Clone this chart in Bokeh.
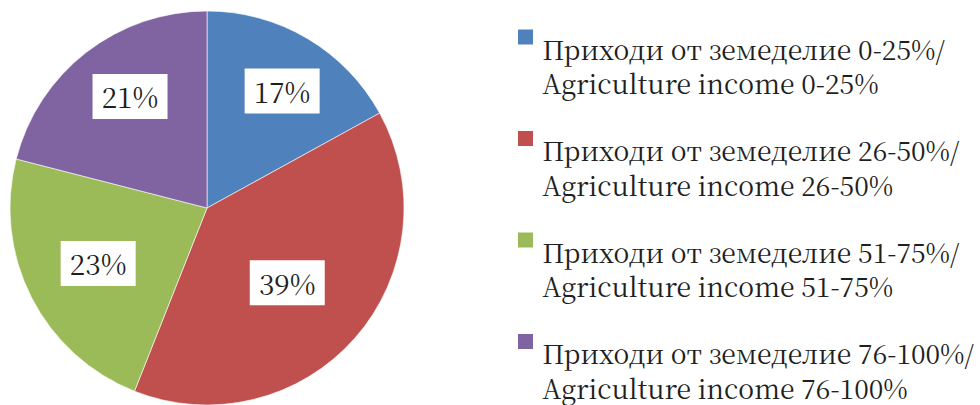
import math
from bokeh.plotting import figure
from bokeh.models import Range1d, ColumnDataSource
from bokeh.core.properties import value
from bokeh.embed import file_html
from bokeh.resources import INLINE

# ---- data ----
categories_bg = ["Приходи от земеделие 0-25%/", "Приходи от земеделие 26-50%/",
                 "Приходи от земеделие 51-75%/", "Приходи от земеделие 76-100%/"]
categories_en = ["Agriculture income 0-25%", "Agriculture income 26-50%",
                 "Agriculture income 51-75%", "Agriculture income 76-100%"]
shares = [17, 39, 23, 21]
colors = ["#4F81BD", "#C0504D", "#9BBB59", "#8064A2"]

# ---- layout (picture coordinates, y measured downward) ----
W, H = 980, 405
FONT = "Noto Serif CJK SC"
TXT = "#1f1f1f"
cx, cy, R = 206.5, 207.5, 197
label_frac = [0.706, 0.557, 0.62, 0.688]
label_dang = [2.1, 1.6, 0.0, 3.2]   # degrees clockwise shift from slice middle

p = figure(width=W, height=H, output_backend="svg", toolbar_location=None,
           x_range=Range1d(0, W), y_range=Range1d(0, H), min_border=0,
           outline_line_color=None, background_fill_color="white")
p.axis.visible = False
p.grid.visible = False

def Y(y):
    return H - y

total = float(sum(shares))
starts, ends, mids = [], [], []
cum = 0.0
for s in shares:
    a0 = math.pi / 2 - 2 * math.pi * cum / total
    cum += s
    a1 = math.pi / 2 - 2 * math.pi * cum / total
    starts.append(a0)
    ends.append(a1)
    mids.append((a0 + a1) / 2)

src = ColumnDataSource(dict(start=starts, end=ends, color=colors))
p.wedge(x=cx, y=Y(cy), radius=R, start_angle="start", end_angle="end",
        direction="clock", fill_color="color", line_color="white",
        line_width=0.6, source=src)

angs = [m - math.radians(d) for m, d in zip(mids, label_dang)]
lx = [cx + f * R * math.cos(a) for f, a in zip(label_frac, angs)]
ly = [Y(cy) + f * R * math.sin(a) for f, a in zip(label_frac, angs)]
lab = [f"{s}%" for s in shares]
p.rect(x=lx, y=ly, width=75, height=45, fill_color="white", line_color=None)
p.text(x=lx, y=ly, text=lab, text_font=value(FONT), text_font_size="28px",
       text_align="center", text_baseline="middle", text_color=TXT)

# legend
base0 = 47.5
step = 101.5
line_gap = 34.5
sq_x, txt_x = 525.0, 541.7
ys1 = [Y(base0 + i * step) for i in range(len(shares))]
ys2 = [y - line_gap for y in ys1]
p.rect(x=[sq_x] * len(shares), y=[y + 11 for y in ys1], width=15, height=15,
       fill_color=colors, line_color=None)
p.text(x=[txt_x] * len(shares), y=ys1, text=categories_bg, text_font=value(FONT),
       text_font_size="26.5px", text_align="left", text_baseline="alphabetic",
       text_color=TXT)
p.text(x=[txt_x] * len(shares), y=ys2, text=categories_en, text_font=value(FONT),
       text_font_size="26.5px", text_align="left", text_baseline="alphabetic",
       text_color=TXT)

open("out.html", "w").write(file_html(p, INLINE))
